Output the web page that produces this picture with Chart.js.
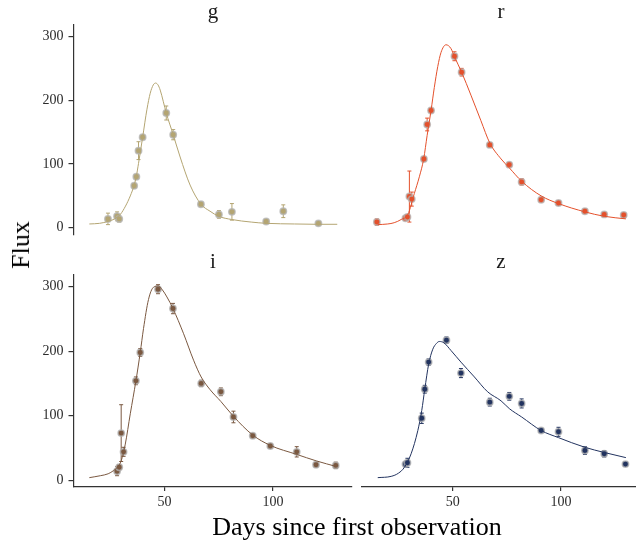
<!DOCTYPE html>
<html>
<head>
<meta charset="utf-8">
<script src="https://cdn.jsdelivr.net/npm/chart.js@4"></script>
<style>
body{margin:0;width:636px;height:541px;overflow:hidden;background:#fff;position:relative;font-family:"Liberation Serif",serif;}
canvas{position:absolute;}
.strip{position:absolute;font-size:21px;line-height:21px;color:#1a1a1a;text-align:center;width:40px;}
.ttl{position:absolute;font-size:26px;line-height:26px;color:#000;white-space:nowrap;}
</style>
</head>
<body>
<canvas id="cg" width="360" height="240" style="left:0;top:0"></canvas>
<canvas id="cr" width="290" height="240" style="left:356px;top:0"></canvas>
<canvas id="ci" width="360" height="291" style="left:0;top:250px"></canvas>
<canvas id="cz" width="290" height="291" style="left:356px;top:250px"></canvas>
<div class="strip" style="left:193px;top:1px">g</div>
<div class="strip" style="left:481px;top:1px">r</div>
<div class="strip" style="left:193px;top:251px">i</div>
<div class="strip" style="left:481px;top:251px">z</div>
<div class="ttl" id="ytitle" style="left:21px;top:245px;transform:translate(-50%,-50%) rotate(-90deg)">Flux</div>
<div class="ttl" id="xtitle" style="left:357px;top:514px;transform:translateX(-50%)">Days since first observation</div>
<script>
// axis ticks
const xTicks=[50,100];
const yTicks=[0,100,200,300];

// g band
const gDay=[23.9,28.1,29.1,36.0,37.0,38.0,39.9,50.8,54.0,66.8,75.1,81.1,96.9,104.8,121.0];
const gFlux=[14,18,14,66,80,121,142,180,146,37,21,25,10,26,7];
const gErr=[9,7,5,3,3,14,3,11,8,3,6,13,3,10,2];
const gFitDay=[15.3,20,24,27,29.6,32,34.2,36,37,38,39.9,41.9,43.4,44.8,45.9,47,48,50.8,54,57.2,61.8,66.8,71,75,81,90,97,110,120,129.7];
const gFitFlux=[6,7,10,14,21,34,50,67,81,101,142,186,211,224,227,224,216,180,146,111,67,37,26,18,13,9,7,6,5.5,5.5];

// r band
const rDay=[15.0,28.2,29.1,30.0,31.1,36.7,38.2,40.0,50.8,54.1,67.1,76.1,81.8,90.8,98.8,111.0,119.9,128.9];
const rFlux=[9,15,17,49,45,108,162,184,269,244,130,99,72,44,39,26,21,20];
const rErr=[5,3,3,40,11,3,10,3,7,6,3,3,5,3,3,3,3,3];
const rFitDay=[15.4,20,23,26.2,29.3,32.3,34.6,36.6,38.2,40,41.5,43.1,44.6,46.9,49.2,50.7,54.1,58.4,63,67.1,72.3,76.1,81.8,90.8,98.8,111,120,129.9];
const rFitFlux=[5,6,8,13,21,54,80,108,145,184,220,253,275,287,281,269,244,208,168,133,108,94,73,50,38,25,18,14];

// i band
const iDay=[28.1,29.1,30.0,31.1,36.8,38.8,47.0,53.9,66.9,76.0,81.8,90.7,98.8,111.0,119.9,129.0];
const iFlux=[14,20,73,44,154,198,296,266,150,137,98,69,53,44,24,23];
const iErr=[7,4,44,7,6,6,7,8,5,6,9,3,3,8,3,5];
const iFitDay=[15.3,20.4,24,26.5,28.5,30,31.9,34.2,36.8,38.8,40.3,42.6,44.9,47.2,49,51.1,53.9,58.8,63.4,66.9,71.1,76,81.8,90.7,98.8,111,120,129.5];
const iFitFlux=[4,7,10,15,21,30,56,103,154,198,235,280,299,301,295,284,266,227,186,160,140,122,99,70,54,40,30,21];

// z band
const zDay=[28.2,29.1,35.7,37.1,38.9,47.1,53.8,67.1,76.1,81.8,90.8,98.8,111.0,119.9,129.7];
const zFlux=[25,27,96,141,183,217,166,121,130,119,77,75,46,41,25];
const zErr=[4,7,8,6,5,5,7,6,6,7,3,7,6,5,3];
const zFitDay=[15.4,21.6,25,27.7,30.8,33.9,35.7,37.1,38.9,40.8,42.5,43.8,45.9,49.2,53.8,60,66.1,72.3,76.1,81.8,90.8,98.8,111,119.9,129.9];
const zFitFlux=[4,6,11,20,41,77,108,141,180,203,212,215,213,201,183,160,137,123,111,98,77,66,51,43,35];

const axisCol='#333333';
const tickFont={family:'Liberation Serif',size:14};

const errorBars={
  id:'errorBars',
  beforeDatasetsDraw(chart){
    const ds=chart.data.datasets[1];
    const xs=chart.scales.x, ys=chart.scales.y, ctx=chart.ctx;
    ctx.save();
    ctx.strokeStyle=ds.backgroundColor;
    ctx.lineWidth=1;
    ds.data.forEach((p,i)=>{
      const e=ds.errors[i];
      const px=xs.getPixelForValue(p.x);
      const t=ys.getPixelForValue(p.y+e), b=ys.getPixelForValue(p.y-e);
      ctx.beginPath();
      ctx.moveTo(px,t);ctx.lineTo(px,b);
      ctx.moveTo(px-2,t);ctx.lineTo(px+2,t);
      ctx.moveTo(px-2,b);ctx.lineTo(px+2,b);
      ctx.stroke();
    });
    ctx.restore();
  }
};

function panel(id,day,flux,err,fitDay,fitFlux,col,left,bottom){
  new Chart(document.getElementById(id),{
    type:'scatter',
    data:{datasets:[
      {data:fitDay.map((d,i)=>({x:d,y:fitFlux[i]})),showLine:true,borderColor:col,borderWidth:1,
       pointRadius:0,cubicInterpolationMode:'monotone',clip:false},
      {data:day.map((d,i)=>({x:d,y:flux[i]})),backgroundColor:col,borderColor:'rgba(180,180,180,0.75)',
       borderWidth:1.5,pointRadius:3.2,errors:err,clip:false}
    ]},
    options:{
      animation:false,responsive:false,events:[],
      layout:{padding:{top:25,bottom:bottom?0:3,left:left?0:5.7,right:left?8:5.8}},
      plugins:{legend:{display:false},tooltip:{enabled:false}},
      scales:{
        x:{type:'linear',min:8,max:136.5,display:bottom,
          afterBuildTicks:s=>{s.ticks=xTicks.map(v=>({value:v}));},
          afterFit:s=>{if(bottom){s.height=54;}else{s.height=0;} s.paddingLeft=0;s.paddingRight=0;},
          grid:{drawOnChartArea:false,tickLength:4,color:axisCol,lineWidth:1.2},
          border:{color:axisCol,width:1.2},
          ticks:{font:tickFont,color:'#2b2b2b',padding:3,maxRotation:0}},
        y:{type:'linear',min:-10.5,max:318,display:left,
          afterBuildTicks:s=>{s.ticks=yTicks.map(v=>({value:v}));},
          afterFit:s=>{s.width=left?73.5:0;s.paddingTop=0;s.paddingBottom=0;},
          grid:{drawOnChartArea:false,tickLength:5,color:axisCol,lineWidth:1.2},
          border:{color:axisCol,width:1.2},
          ticks:{font:tickFont,color:'#2b2b2b',padding:5}}
      }
    },
    plugins:[errorBars]
  });
}

panel('cg',gDay,gFlux,gErr,gFitDay,gFitFlux,'#b4a572',true,false);
panel('cr',rDay,rFlux,rErr,rFitDay,rFitFlux,'#e4502b',false,false);
panel('ci',iDay,iFlux,iErr,iFitDay,iFitFlux,'#7a5840',true,true);
panel('cz',zDay,zFlux,zErr,zFitDay,zFitFlux,'#22335f',false,true);
</script>
</body>
</html>
